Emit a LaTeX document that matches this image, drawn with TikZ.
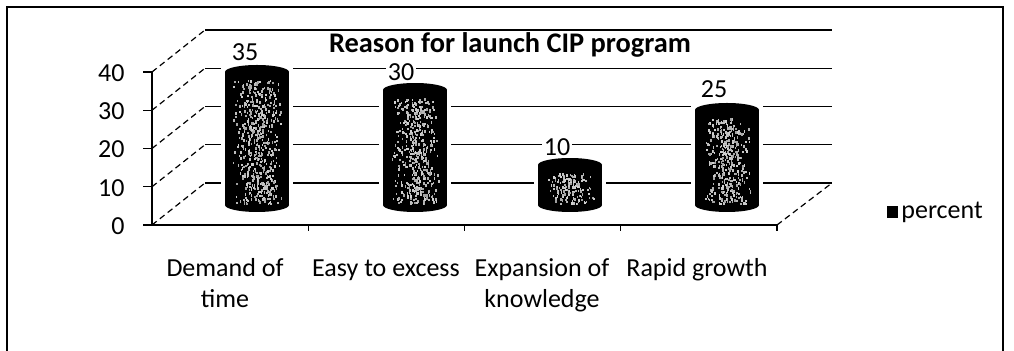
\documentclass[tikz,border=0pt]{standalone}
\usepackage{fontspec}
\setmainfont{Carlito}
\usetikzlibrary{calc}
\def\drawgrid{\draw[line width=0.6pt]}
\def\drawside{\draw[line width=0.6pt, densely dashed]}
\def\drawframe{\draw[line width=1.1pt]}
% cylinder bar: centre x, y of the top face
\newcommand\drawcyl[2]{%
  \fill[white] (#1-36,#2-4) rectangle (#1+36,209);
  \fill (#1-32,#2) rectangle (#1+32,205);
  \fill (#1,#2) ellipse (32 and 7);
  \fill (#1,205) ellipse (32 and 7);
  % grey speckle on the body
  \pgfmathtruncatemacro\ndots{(205-#2)*4}
  \foreach \k in {1,...,\ndots} {
    \pgfmathsetmacro\px{#1+(rnd+rnd-1)*25}
    \pgfmathsetmacro\py{#2+8+rnd*(195-#2)}
    \pgfmathtruncatemacro\shade{35+rnd*40}
    \fill[gray!\shade] (\px,\py) rectangle ++(1.6,2.4);
  }
}

\begin{document}
\begin{tikzpicture}[x=0.5pt,y=-0.5pt,
  every node/.style={inner sep=0pt, font=\fontsize{13}{15.5}\selectfont},
  vallabel/.style={fill=white, inner sep=1pt},
  catlabel/.style={align=center, anchor=base}]
\pgfmathsetseed{17}
\useasboundingbox (0,0) rectangle (1014,351);
\drawframe (7,351) -- (7,7) -- (1003,7) -- (1003,351);

% -------- walls and floor ---------
\coordinate (origin) at (152,225);
\foreach \v in {0,...,4} {
  \pgfmathtruncatemacro\lab{10*\v}
  \coordinate (t\v) at ($ (origin) + (0,-38.25*\v) $);
  \draw[line width=0.6pt] ($ (t\v) - (9,0) $) -- (t\v);
  \node[anchor=east] (ylab\v) at ($ (t\v) - (27,-1) $) {\lab};
  \drawside (t\v) -- ++(53,-42) coordinate (b\v);
  \drawgrid (b\v) -- ++(627,0) coordinate (e\v);
}
\drawgrid (origin) -- (t4);
\coordinate (floorend) at (777,225);
\drawgrid ($ (origin) - (9,0) $) -- (floorend);
\drawside (floorend) -- (e0);
\foreach \i in {1,...,4}
  \draw[line width=0.6pt] ($ (origin) + (156.25*\i,0) $) -- ++(0,6);

% -------- bars ---------
\drawcyl{257}{72}
\drawcyl{415}{90}
\drawcyl{570}{165}
\drawcyl{727}{110}

\node[vallabel] (val1) at (245,52) {35};
\node[vallabel] (val2) at (401,72) {30};
\node[vallabel] (val3) at (557,147) {10};
\node[vallabel] (val4) at (714,89) {25};

\node[font=\bfseries\fontsize{14.2}{16}\selectfont, anchor=base] (title) at (510,53) {Reason for launch CIP program};

% -------- category names ---------
\node[catlabel] (cat1) at (225,308) {Demand of\\time};
\node[catlabel] (cat2) at (386,277) {Easy to excess};
\node[catlabel] (cat3) at (542,308) {Expansion of\\knowledge};
\node[catlabel] (cat4) at (697,277) {Rapid growth};

% legend
\node[fill=black, minimum width=5.5pt, minimum height=6pt] (legkey) at (892,212) {};
\node[anchor=west] (legtext) at (901,212) {percent};
\end{tikzpicture}
\end{document}
